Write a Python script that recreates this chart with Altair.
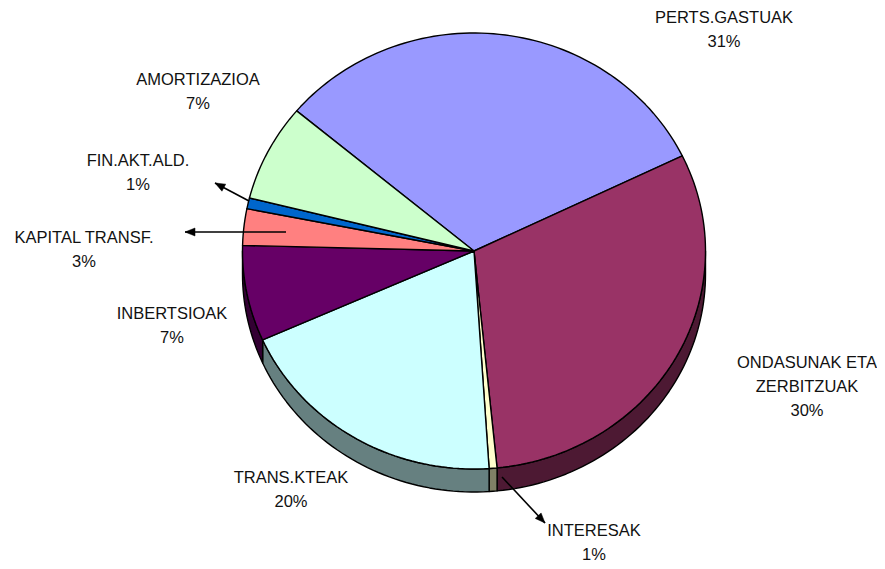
import math
import altair as alt

# Chart values (percent of the pie, clockwise)
categories = ["PERTS.GASTUAK", "ONDASUNAK ETA\nZERBITZUAK", "INTERESAK", "TRANS.KTEAK",
              "INBERTSIOAK", "KAPITAL TRANSF.", "FIN.AKT.ALD.", "AMORTIZAZIOA"]
shares = [31.7, 30.6, 0.55, 19.35, 7.1, 2.7, 0.8, 7.2]
percent_labels = ["31%", "30%", "1%", "20%", "7%", "3%", "1%", "7%"]
top_colors = ["#9999FF", "#993366", "#FFFFCC", "#CCFFFF", "#660066", "#FF8080", "#0066CC", "#CCFFCC"]
side_colors = ["#4D4D80", "#4D1933", "#808066", "#668080", "#330033", "#804040", "#003366", "#668066"]
start_angle = 310.0

# Label and leader placement in page pixels (centre of each label's first line)
label_x = [724, 807, 594, 291, 172, 84, 138, 198]
label_y = [17.5, 363, 531, 478, 314, 238, 161, 80]
leader_from = [(286, 232), (249, 201), (502, 477)]
leader_to = [(185, 232), (215, 183), (545, 523)]

CX, CY, RX, RY, DEPTH = 474.0, 251.0, 231.5, 218.0, 23.0
MARGIN = 8


def unit(px, py):
    return [(px - CX) / RX, -(py - CY) / RX]


def rim(deg, drop=0.0):
    a = math.radians(deg)
    return unit(CX + RX * math.sin(a), CY - RY * math.cos(a) + drop)


def sweep(a0, a1):
    n = max(2, int(abs(a1 - a0) / 1.5) + 1)
    return [a0 + (a1 - a0) * i / n for i in range(n + 1)]


def feature(ring, color, kind="Polygon"):
    coords = [ring + [ring[0]]] if kind == "Polygon" else ring
    return {"type": "Feature", "geometry": {"type": kind, "coordinates": coords},
            "properties": {"color": color}}


total = sum(shares)
tops, sides = [], []
angle = start_angle
for share, top, side in zip(shares, top_colors, side_colors):
    end = angle + 360.0 * share / total
    pts = sweep(angle, end)
    tops.append(feature([unit(CX, CY)] + [rim(d) for d in pts], top))
    # wall: only the part of the rim that faces the viewer (90 to 270 degrees)
    for shift in (0, 360, -360):
        lo, hi = max(angle + shift, 90), min(end + shift, 270)
        if hi > lo:
            arc = sweep(lo, hi)
            ring = [rim(d) for d in arc] + [rim(d, DEPTH) for d in reversed(arc)]
            sides.append(feature(ring, side))
    angle = end

lines, heads = [], []
for (x0, y0), (x1, y1) in zip(leader_from, leader_to):
    lines.append(feature([unit(x0, y0), unit(x1, y1)], "black", "LineString"))
    d = math.hypot(x1 - x0, y1 - y0)
    ux, uy = (x1 - x0) / d, (y1 - y0) / d
    bx, by = x1 - ux * 10, y1 - uy * 10
    heads.append(feature([unit(x1, y1), unit(bx - uy * 4, by + ux * 4), unit(bx + uy * 4, by - ux * 4)], "black"))

label_rows = []
for name, pct, x, y in zip(categories, percent_labels, label_x, label_y):
    lon, lat = unit(x, y)
    label_rows.append({"lon": lon, "lat": lat, "text": name + "\n" + pct})

projection = alt.Projection(type="identity", reflectY=True, scale=RX,
                            translate=[CX - MARGIN, CY - MARGIN])


def shapes(features, **mark):
    return (alt.Chart(alt.Data(values=features)).mark_geoshape(**mark)
            .encode(fill=alt.Fill("properties.color:N", scale=None))
            .project(**projection.to_dict()))


line_layer = (alt.Chart(alt.Data(values=lines))
              .mark_geoshape(filled=False, stroke="black", strokeWidth=1.6)
              .project(**projection.to_dict()))

text_layer = (alt.Chart(alt.Data(values=label_rows))
              .mark_text(font="Liberation Sans", fontSize=16.5, lineHeight=24, lineBreak="\n",
                         align="center", baseline="middle", color="#111111")
              .encode(longitude="lon:Q", latitude="lat:Q", text="text:N")
              .project(**projection.to_dict()))

chart = (alt.layer(
    shapes(sides, stroke="black", strokeWidth=1.4, strokeJoin="round"),
    shapes(tops, stroke="black", strokeWidth=1.4, strokeJoin="round"),
    line_layer,
    shapes(heads, stroke="black", strokeWidth=0.5),
    text_layer,
).properties(width=869, height=561, padding=0, autosize=alt.AutoSizeParams(type="none"))
 .configure_view(stroke=None))

chart.save("out.html", embed_options={"renderer": "svg", "actions": False})
